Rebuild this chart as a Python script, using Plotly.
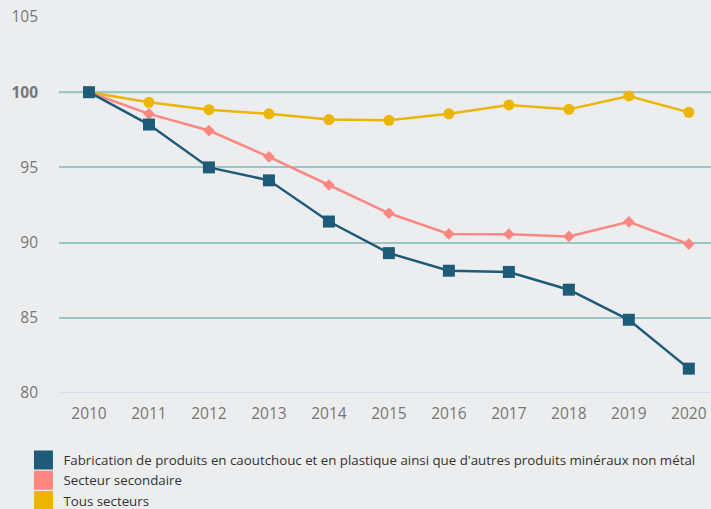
import plotly.graph_objects as go

years = [2010, 2011, 2012, 2013, 2014, 2015, 2016, 2017, 2018, 2019, 2020]
fabrication = [100, 97.85, 95.0, 94.14, 91.4, 89.3, 88.13, 88.05, 86.87, 84.87, 81.62]
secondaire = [100, 98.56, 97.45, 95.7, 93.83, 91.95, 90.58, 90.56, 90.41, 91.38, 89.9]
tous = [100, 99.33, 98.84, 98.56, 98.18, 98.13, 98.56, 99.15, 98.86, 99.75, 98.66]

names = ["Fabrication de produits en caoutchouc et en plastique ainsi que d'autres produits minéraux non métal",
         "Secteur secondaire", "Tous secteurs"]
colors = ["#1d5b79", "#ff8781", "#ebb501"]
symbols = ["square", "diamond", "circle"]
sizes = [12, 9, 11]
series = [fabrication, secondaire, tous]

y_ticks = [80, 85, 90, 95, 100, 105]
y_ticklabels = ["80", "85", "90", "95", "<b>100</b>", "105"]

fig = go.Figure()
for i in [2, 1, 0]:
    fig.add_trace(go.Scatter(
        x=years, y=series[i], mode="lines+markers", showlegend=False,
        line=dict(color=colors[i], width=2.5),
        marker=dict(symbol=symbols[i], size=sizes[i], color=colors[i]),
    ))
for i in range(3):
    fig.add_trace(go.Scatter(
        x=[None], y=[None], mode="markers", name=names[i],
        marker=dict(symbol="square", size=16, color=colors[i],
                    line=dict(color=colors[i], width=3)),
    ))

fig.add_shape(type="line", xref="paper", yref="y", x0=0, x1=1, y0=100, y1=100,
              line=dict(color="#9cbf9f", width=2), layer="below")
fig.add_shape(type="line", xref="paper", yref="y", x0=0, x1=1, y0=80, y1=80,
              line=dict(color="#d3ddef", width=2), layer="below")

fig.update_layout(
    width=711, height=509,
    paper_bgcolor="#ecedef", plot_bgcolor="#ecedef",
    margin=dict(l=59, r=0, t=17, b=116, autoexpand=False),
    font=dict(family="Open Sans", color="#777777", size=15.5),
    legend=dict(orientation="v", xref="container", x=0.033, xanchor="left",
                yref="container", y=0.126, yanchor="top",
                font=dict(size=13.3, color="#333333"), tracegroupgap=0,
                itemwidth=30, bgcolor="rgba(0,0,0,0)"),
    xaxis=dict(range=[2009.5, 2020.37], tickmode="array", tickvals=years,
               showgrid=False, zeroline=False, showline=False,
               ticklabelstandoff=9, fixedrange=True),
    yaxis=dict(range=[80, 105], tickmode="array", tickvals=y_ticks, ticktext=y_ticklabels,
               showgrid=True, gridcolor="#9cc6c3", gridwidth=2, zeroline=False,
               showline=False, ticklabelstandoff=20),
)

fig.write_html("out.html", config={"displayModeBar": False},
               post_script="document.body.style.margin='0';document.body.style.overflow='hidden';")
